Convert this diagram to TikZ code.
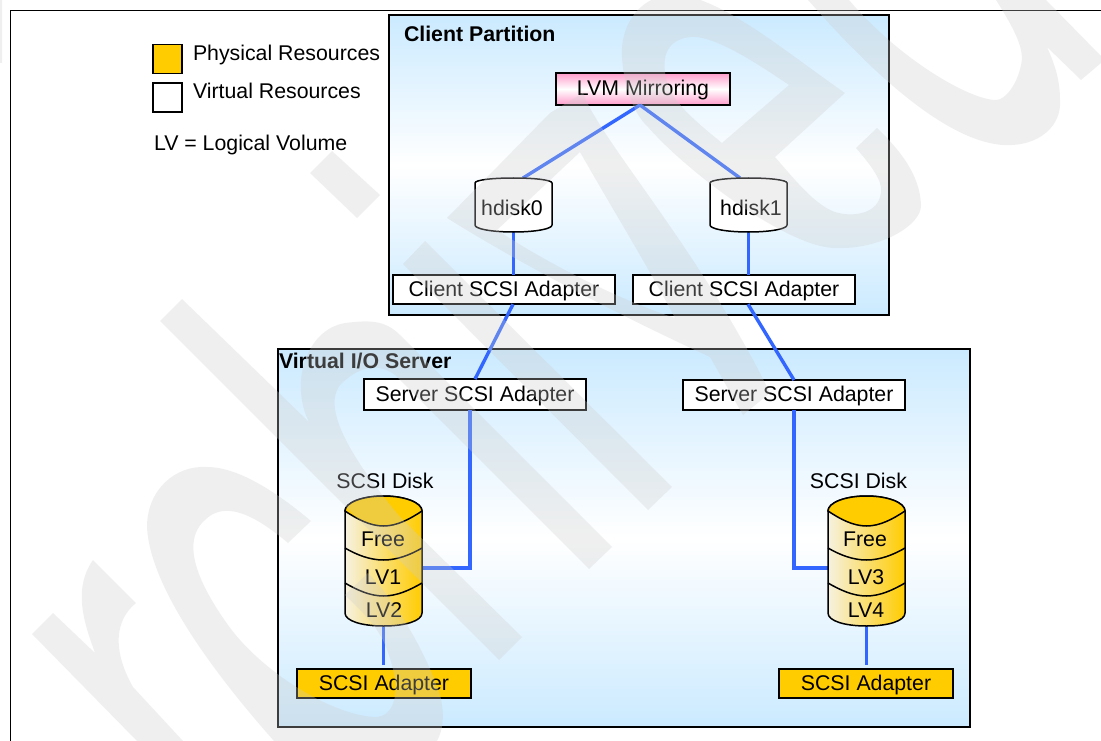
\documentclass[tikz,border=0pt]{standalone}
\usepackage{fontspec}
\setmainfont{Liberation Sans}
\definecolor{skyb}{HTML}{CBEAFF}
\definecolor{linkb}{HTML}{3366FF}
\definecolor{amber}{HTML}{FFCC00}
\definecolor{cream}{HTML}{F6F1E0}
\definecolor{pinkm}{HTML}{FF9CCB}
\definecolor{wmark}{HTML}{CDCDCD}
\tikzset{
  every node/.style={font=\fontsize{21.3}{25}\selectfont, inner sep=0pt, outer sep=0pt, text height=15pt, text depth=2pt},
  partition/.style={draw=black, line width=2pt, top color=skyb, bottom color=skyb, middle color=white},
  titletext/.style={anchor=base west, font=\fontsize{21.3}{25}\selectfont\bfseries},
  freetext/.style={anchor=base west},
  centertext/.style={anchor=base},
  vbox/.style={draw=black, line width=1.6pt, fill=white, minimum width=222pt, minimum height=29.5pt},
  pbox/.style={draw=black, line width=1.6pt, fill=amber, minimum width=174pt, minimum height=29pt},
  pinkbox/.style={draw=black, line width=1.6pt, top color=pinkm, bottom color=pinkm, middle color=white, minimum width=174pt, minimum height=32pt},
  legendsq/.style={draw=black, line width=1.6pt, minimum width=29pt, minimum height=29pt},
  smalldisk/.style={minimum width=77pt, minimum height=54pt},
  bigdisk/.style={minimum width=77pt, minimum height=130pt},
  link/.style={draw=linkb, line width=3.4pt},
  diskline/.style={draw=black, line width=1.5pt},
  stack/.pic={
    \path[diskline, left color=cream, right color=amber, middle color=amber!50!cream]
      (0,15) .. controls (0,6.7) and (17,0) .. (38.5,0) .. controls (60,0) and (77,6.7) .. (77,15)
      -- (77,117) .. controls (77,125) and (60,130) .. (38.5,130) .. controls (17,130) and (0,125) .. (0,117) -- cycle;
    \path[diskline, fill=amber]
      (0,15) .. controls (0,6.7) and (17,0) .. (38.5,0) .. controls (60,0) and (77,6.7) .. (77,15)
      .. controls (65,23) and (52,30) .. (38.5,30) .. controls (25,30) and (12,23) .. (0,15) -- cycle;
    \draw[diskline] (0,52) .. controls (12,59) and (25,64) .. (38.5,64) .. controls (52,64) and (65,59) .. (77,52);
    \draw[diskline] (0,87) .. controls (12,94) and (25,100) .. (38.5,100) .. controls (52,100) and (65,94) .. (77,87);
  },
  drum/.pic={
    \path[draw=black, line width=1.5pt, fill=white]
      (0,5) .. controls (0,2) and (17,0) .. (38.5,0) .. controls (60,0) and (77,2) .. (77,5)
      -- (77,47) .. controls (77,51) and (60,54) .. (38.5,54) .. controls (17,54) and (0,51) .. (0,47) -- cycle;
  },
}
\begin{document}
\begin{tikzpicture}[x=1pt,y=-1pt]
\useasboundingbox (0,0) rectangle (1101,741);
\fill[white] (0,0) rectangle (1101,741);
% page frame
\coordinate (frameA) at (10.5,741);
\coordinate (frameB) at (10.5,10.5);
\coordinate (frameC) at (1101,10.5);
\draw[black, line width=1pt] (frameA) -- (frameB) -- (frameC);
% legend
\node[legendsq, fill=amber] (legP) at (167.5,59) {};
\node[legendsq, fill=white] (legV) at (167.5,97.5) {};
\node[freetext] (legPt) at (193,61) {Physical Resources};
\node[freetext] (legVt) at (193,99) {Virtual Resources};
\node[freetext] (legLt) at (154,151) {LV = Logical Volume};
% partitions
\node[partition, minimum width=500pt, minimum height=299.5pt] (client) at (638.5,165.25) {};
\node[partition, minimum width=692pt, minimum height=378pt] (vios) at (624,538) {};
\node[titletext] (clientT) at (404,42) {Client Partition};
\node[titletext] (viosT) at (279,368) {Virtual I/O Server};
% boxes and disks: anchors
\node[smalldisk] (hd0) at (513.5,205) {};
\node[smalldisk] (hd1) at (748.5,205) {};
\node[bigdisk] (dk1) at (383.5,561) {};
\node[bigdisk] (dk2) at (866.5,561) {};
\node[pinkbox] (lvm) at (643,89) {LVM Mirroring};
\node[vbox] (ca) at (504,289.5) {Client SCSI Adapter};
\node[vbox] (cb) at (744,289.5) {Client SCSI Adapter};
\node[vbox, minimum height=31pt] (sa) at (475,394.5) {Server SCSI Adapter};
\node[vbox, minimum height=30pt] (sb) at (794,395) {Server SCSI Adapter};
\node[pbox] (ad1) at (384,683.5) {SCSI Adapter};
\node[pbox] (ad2) at (866,683.5) {SCSI Adapter};
% connectors
\draw[link] ([xshift=-3pt]lvm.south) -- ([xshift=9.5pt]hd0.north);
\draw[link] ([xshift=-3pt]lvm.south) -- ([xshift=-8.5pt]hd1.north);
\draw[link] (hd0.south) -- (hd0.south |- ca.north);
\draw[link] (hd1.south) -- (hd1.south |- cb.north);
\draw[link] ([xshift=9pt]ca.south) -- (sa.north);
\draw[link] ([xshift=4pt]cb.south) -- (sb.north);
\draw[link] ([xshift=-5pt]sa.south) |- ([yshift=-7pt]dk1.east);
\draw[link] (sb.south) |- ([yshift=-7pt]dk2.west);
\draw[link] (dk1.south) -- ([yshift=4pt]dk1.south |- ad1.north);
\draw[link] (dk2.south) -- ([yshift=4pt]dk2.south |- ad2.north);
% disk bodies
\pic at (475,178) {drum};
\pic at (710,178) {drum};
\pic at (345,496) {stack};
\pic at (828,496) {stack};
\node[centertext] (hd0t) at (512,215) {hdisk0};
\node[centertext] (hd1t) at (751,215) {hdisk1};
\node[centertext] (sd1) at (385,488) {SCSI Disk};
\node[centertext] (sd2) at (858.5,488) {SCSI Disk};
\node[centertext] (f1) at (383,546) {Free};
\node[centertext] (lv1) at (383,584) {LV1};
\node[centertext] (lv2) at (384,617) {LV2};
\node[centertext] (f2) at (865,546) {Free};
\node[centertext] (lv3) at (866,584) {LV3};
\node[centertext] (lv4) at (866,617) {LV4};
% translucent background lettering over everything
\begin{scope}[transparency group, opacity=.3]
\clip (0,0) rectangle (1101,741);
\fill[wmark] (0,0) rectangle (2,63);
\fill[wmark] (332,151) -- (380,195) -- (357,218) -- (310,173) -- cycle;
\fill[wmark] (32,634) -- (53,613) -- (95,653) .. controls (85,625) and (72,590) .. (93,560) -- (136,603) .. controls (115,620) and (112,650) .. (133,687) -- (183,741) -- (137,741) -- cycle;
\fill[wmark] (311,521) -- (288,543) .. controls (255,515) and (225,500) .. (205,520) .. controls (188,535) and (185,565) .. (228,625) .. controls (260,670) and (330,715) .. (375,717) .. controls (395,717) and (405,690) .. (383,640) .. controls (372,620) and (360,610) .. (345,595) -- (368,573) .. controls (395,600) and (425,650) .. (440,695) .. controls (445,715) and (443,730) .. (437,741) -- (274,741) .. controls (220,680) and (150,590) .. (147,527) .. controls (147,490) and (175,465) .. (207,467) .. controls (240,467) and (280,495) .. (311,521) -- cycle;
\fill[wmark] (182,299) -- (309,422) .. controls (290,385) and (305,330) .. (345,323) .. controls (370,320) and (385,320) .. (400,335) -- (612,547) -- (589,569) -- (395,375) .. controls (375,360) and (355,370) .. (340,385) .. controls (325,405) and (340,445) .. (400,517) -- (522,637) -- (499,660) -- (160,321) -- cycle;
\fill[wmark] (425,241) -- (672,487) -- (648,510) -- (403,264) -- cycle;
\fill[wmark, even odd rule] (447,218) -- (550,113) -- (583,93) .. controls (600,140) and (700,250) .. (770,393) -- (743,415) -- (710,357) .. controls (640,325) and (530,270) .. (447,218) -- cycle
  (580,152) -- (497,230) .. controls (550,265) and (620,300) .. (675,318) .. controls (650,270) and (610,205) .. (580,152) -- cycle;
\fill[wmark, even odd rule] (845,93) .. controls (790,55) and (725,0) .. (680,-5) .. controls (640,-8) and (620,25) .. (622,57) .. controls (624,90) and (635,115) .. (648,127) .. controls (690,175) and (790,248) .. (835,248) .. controls (880,250) and (922,225) .. (921,205) .. controls (920,175) and (900,150) .. (877,128) -- (856,148) .. controls (875,170) and (885,185) .. (880,197) .. controls (875,215) and (850,217) .. (835,212) .. controls (815,205) and (795,180) .. (775,157) -- cycle
  (789,85) .. controls (745,55) and (710,35) .. (690,37) .. controls (665,40) and (660,60) .. (668,85) .. controls (675,105) and (700,125) .. (722,143) -- cycle;
\fill[wmark] (808,0) .. controls (835,30) and (930,140) .. (1003,145) .. controls (1040,147) and (1062,125) .. (1060,100) .. controls (1060,80) and (1055,65) .. (1047,47) -- (1081,80) -- (1101,63) -- (1101,56) -- (1046,0) -- (996,0) .. controls (1015,30) and (1025,50) .. (1021,65) .. controls (1017,85) and (1005,100) .. (996,100) .. controls (970,100) and (900,60) .. (849,0) -- cycle;
\end{scope}
\end{tikzpicture}
\end{document}
